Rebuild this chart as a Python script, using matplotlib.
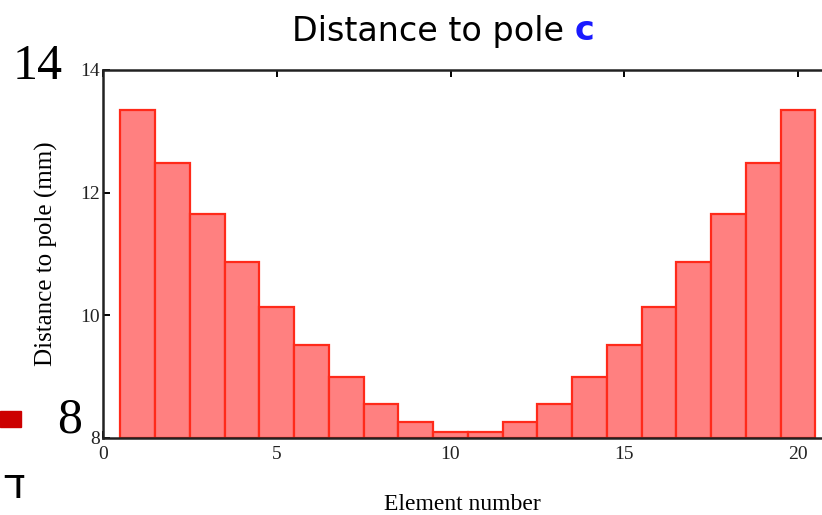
import matplotlib.pyplot as plt

# Distance of each element to the pole
elements = list(range(1, 21))
distance_mm = [13.35, 12.48, 11.65, 10.87, 10.14, 9.52, 9.0, 8.55, 8.26, 8.10,
               8.10, 8.26, 8.55, 9.0, 9.52, 10.14, 10.87, 11.65, 12.48, 13.35]
y_ticks = [8, 10, 12, 14]
x_ticks = [0, 5, 10, 15, 20]

W, H = 822, 515
fig = plt.figure(figsize=(W / 100, H / 100), dpi=100)

# plot area in pixels
left_px, right_px, top_px, bottom_px = 103, 822, 70, 438
ax = fig.add_axes([left_px / W, 1 - bottom_px / H,
                   (right_px - left_px) / W, (bottom_px - top_px) / H])

ax.bar(elements, [d - 8 for d in distance_mm], bottom=8, width=1.0,
       color='#ff8080', edgecolor='#ff2a1a', linewidth=1.6, zorder=2)

ax.set_xlim(0, (right_px - left_px) / 34.75)
ax.set_ylim(8, 14)
ax.set_xticks(x_ticks)
ax.set_yticks(y_ticks)

serif = 'Liberation Serif'
for lab in ax.get_xticklabels() + ax.get_yticklabels():
    lab.set_family(serif)
    lab.set_fontsize(14)
    lab.set_color('#222222')
ax.tick_params(direction='in', top=True, length=5, width=1.4, pad=6)
ax.tick_params(axis='y', pad=2)
ax.spines['right'].set_visible(False)
for s in ('left', 'top', 'bottom'):
    ax.spines[s].set_linewidth(1.8)
    ax.spines[s].set_color('#222222')

ax.set_xlabel('Element number', family=serif, fontsize=17, labelpad=22)
ax.set_ylabel('Distance to pole (mm)', family=serif, fontsize=18, labelpad=16)

# title with highlighted pole symbol
t = fig.text(292 / W, 1 - 31 / H, 'Distance to pole ', family='DejaVu Sans',
             fontsize=24, va='center', ha='left')
ax.annotate('c', xy=(1, 0), xycoords=t, va='bottom', ha='left',
            family='DejaVu Sans', fontsize=24, fontweight='bold', color='#1a1aff')

# scale markers beside the axis
fig.text(38 / W, 1 - 67 / H, '14', family=serif, fontsize=36,
         ha='center', va='center')
fig.text(70 / W, 1 - 420 / H, '8', family=serif, fontsize=36,
         ha='center', va='center')
fig.patches.append(plt.Rectangle((0, 1 - 427 / H), 21 / W, 16 / H,
                                 transform=fig.transFigure,
                                 color='#cc0000', figure=fig))
fig.text(2 / W, 1 - 486 / H, 'ד', family='DejaVu Sans', fontsize=30,
         ha='left', va='center')

fig.savefig('out.png', dpi=100)
